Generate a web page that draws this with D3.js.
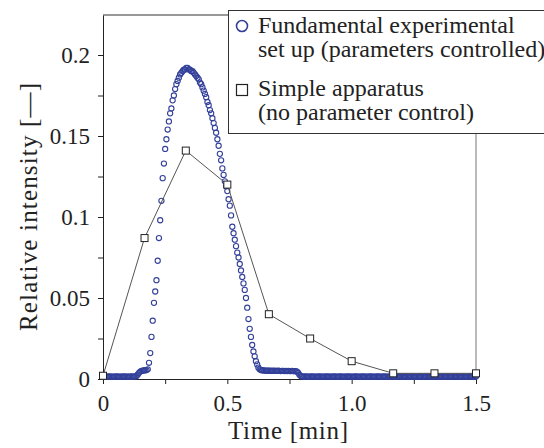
<!DOCTYPE html>
<html>
<head>
<meta charset="utf-8">
<script src="https://cdn.jsdelivr.net/npm/d3@7"></script>
<style>
  body { margin: 0; background: #fff; }
</style>
</head>
<body>
<div id="chart"></div>
<script>
// fundamental set up: one reading every 0.005 min, starting at t = 0
const fundamentalStart = 0
const fundamentalStep = 0.005
const fundamentalValues = [
  0.0016, 0.0015, 0.0015, 0.0014, 0.0015, 0.0016, 0.0015, 0.0015, 0.0014, 0.0015,
  0.0015, 0.0016, 0.0015, 0.0015, 0.0014, 0.0015, 0.0015, 0.0016, 0.0015, 0.0015,
  0.0015, 0.0014, 0.0015, 0.0016, 0.0015, 0.0015, 0.0016, 0.0018,
  0.0028, 0.0038, 0.0046, 0.0050, 0.0052, 0.0053, 0.0054, 0.0055,
  0.006, 0.010, 0.016, 0.026, 0.036, 0.047, 0.054, 0.061, 0.073, 0.087,
  0.098, 0.110, 0.124, 0.133, 0.142, 0.148, 0.154, 0.159, 0.164, 0.167,
  0.172, 0.175, 0.179, 0.182, 0.184, 0.186, 0.188, 0.189, 0.190, 0.191,
  0.191, 0.192, 0.192, 0.191, 0.191, 0.190, 0.190, 0.189, 0.188, 0.187,
  0.186, 0.185, 0.183, 0.182, 0.180, 0.178, 0.176, 0.174, 0.171, 0.169,
  0.166, 0.164, 0.161, 0.158, 0.155, 0.152, 0.148, 0.144, 0.139, 0.135,
  0.130, 0.126, 0.122, 0.119, 0.116, 0.111, 0.107, 0.101, 0.094, 0.090,
  0.086, 0.082, 0.078, 0.075, 0.071, 0.067, 0.063, 0.059, 0.055, 0.050,
  0.044, 0.037, 0.031, 0.026, 0.021, 0.017, 0.014, 0.011, 0.009, 0.007,
  0.006,
  0.0055, 0.0054, 0.0053, 0.0052, 0.0052, 0.0051, 0.0052, 0.0051, 0.0050, 0.0051,
  0.0050, 0.0051, 0.0050, 0.0050, 0.0051, 0.0050, 0.0049, 0.0050, 0.0050, 0.0049,
  0.0050, 0.0049, 0.0050, 0.0049, 0.0049, 0.0050, 0.0049, 0.0048, 0.0049, 0.0046,
  0.0038,
  0.0026, 0.0018, 0.0016, 0.0015, 0.0015, 0.0016, 0.0015, 0.0014, 0.0015, 0.0015,
  0.0016, 0.0015, 0.0015, 0.0014, 0.0015, 0.0015, 0.0016, 0.0015, 0.0015, 0.0014,
  0.0015, 0.0015, 0.0016, 0.0015, 0.0015, 0.0014, 0.0015, 0.0015, 0.0016, 0.0015,
  0.0015, 0.0014, 0.0015, 0.0016, 0.0015, 0.0015, 0.0014, 0.0015, 0.0015, 0.0016,
  0.0015, 0.0015, 0.0015, 0.0014, 0.0015, 0.0016, 0.0015, 0.0015, 0.0014, 0.0015,
  0.0015, 0.0016, 0.0015, 0.0015, 0.0014, 0.0015, 0.0015, 0.0016, 0.0015, 0.0015,
  0.0014, 0.0015, 0.0015, 0.0016, 0.0015, 0.0015, 0.0014, 0.0015, 0.0016, 0.0015,
  0.0015, 0.0014, 0.0015, 0.0015, 0.0016, 0.0015, 0.0015, 0.0014, 0.0015, 0.0015,
  0.0016, 0.0015, 0.0015, 0.0014, 0.0015, 0.0016, 0.0015, 0.0015, 0.0014, 0.0015,
  0.0015, 0.0016, 0.0015, 0.0015, 0.0014, 0.0015, 0.0015, 0.0016, 0.0015, 0.0015,
  0.0014, 0.0015, 0.0016, 0.0015, 0.0015, 0.0014, 0.0015, 0.0015, 0.0016, 0.0015,
  0.0015, 0.0014, 0.0015, 0.0015, 0.0016, 0.0015, 0.0015, 0.0014, 0.0015, 0.0016,
  0.0015, 0.0015, 0.0014, 0.0015, 0.0015, 0.0016, 0.0015, 0.0015, 0.0014, 0.0015,
  0.0015, 0.0016, 0.0015, 0.0015, 0.0014, 0.0015, 0.0015, 0.0016, 0.0015, 0.0015,
  0.0015, 0.0014, 0.0015
]

// simple apparatus: one reading every 10 s
const simpleTime = [0, 0.167, 0.333, 0.5, 0.667, 0.833, 1.0, 1.167, 1.333, 1.5]
const simpleValues = [0.002, 0.087, 0.141, 0.120, 0.040, 0.025, 0.011, 0.0035, 0.0035, 0.0035]

const xTicks = [0, 0.25, 0.5, 0.75, 1, 1.25, 1.5]
const xLabels = ["0", "", "0.5", "", "1.0", "", "1.5"]
const yTicks = [0, 0.025, 0.05, 0.075, 0.1, 0.125, 0.15, 0.175, 0.2]
const yLabels = ["0", "", "0.05", "", "0.1", "", "0.15", "", "0.2"]

const legendLabels = [
  ["Fundamental experimental", "set up (parameters controlled)"],
  ["Simple apparatus", "(no parameter control)"]
]

const width = 544
const height = 448
const blue = "#33409a"
const serif = "'Liberation Serif', 'Times New Roman', Times, serif"

const svg = d3.select("#chart")
    .append("svg")
    .attr("width", width)
    .attr("height", height)
    .attr("font-family", serif)

const xScale = d3.scaleLinear().domain([0, 1.5]).range([103, 476])
const yScale = d3.scaleLinear().domain([0, 0.2247]).range([379, 15])

// axes
const xAxis = svg.append("g")
    .attr("transform", "translate(0," + yScale(0) + ")")
    .call(d3.axisBottom(xScale)
        .tickValues(xTicks)
        .tickSize(5)
        .tickSizeOuter(0)
        .tickPadding(11)
        .tickFormat((d, i) => xLabels[i]))
    .attr("font-family", serif)
    .attr("font-size", 23)

const yAxis = svg.append("g")
    .attr("transform", "translate(" + xScale(0) + ",0)")
    .call(d3.axisLeft(yScale)
        .tickValues(yTicks)
        .tickSize(5)
        .tickSizeOuter(0)
        .tickPadding(8)
        .tickFormat((d, i) => yLabels[i]))
    .attr("font-family", serif)
    .attr("font-size", 23)

svg.selectAll(".domain, .tick line").attr("stroke", "#222")
svg.selectAll(".tick text").attr("fill", "#222")

// frame: top and right
svg.append("line")
    .attr("x1", xScale(0)).attr("x2", 230)
    .attr("y1", yScale.range()[1]).attr("y2", yScale.range()[1])
    .attr("stroke", "#333")
svg.append("line")
    .attr("x1", xScale(1.5)).attr("x2", xScale(1.5))
    .attr("y1", 20).attr("y2", yScale(0))
    .attr("stroke", "#777")

// fundamental set up (hollow rings, dense runs merge into a band)
svg.append("g")
    .selectAll("circle")
    .data(fundamentalValues)
    .join("circle")
    .attr("cx", (d, i) => xScale(fundamentalStart + i * fundamentalStep))
    .attr("cy", d => yScale(d))
    .attr("r", 2.6)
    .attr("fill", "none")
    .attr("stroke", blue)
    .attr("stroke-width", 1.1)

// simple apparatus
const simplePoints = simpleTime.map((t, i) => [t, simpleValues[i]])
svg.append("path")
    .datum(simplePoints)
    .attr("fill", "none")
    .attr("stroke", "#555")
    .attr("stroke-width", 1)
    .attr("d", d3.line().x(d => xScale(d[0])).y(d => yScale(d[1])))
svg.append("g")
    .selectAll("rect")
    .data(simplePoints)
    .join("rect")
    .attr("x", d => xScale(d[0]) - 3.5)
    .attr("y", d => yScale(d[1]) - 3.5)
    .attr("width", 7)
    .attr("height", 7)
    .attr("fill", "#fff")
    .attr("stroke", "#222")
    .attr("stroke-width", 1)

// axis titles
svg.append("text")
    .attr("x", 288)
    .attr("y", 439)
    .attr("text-anchor", "middle")
    .attr("font-size", 25)
    .attr("textLength", 120)
    .attr("fill", "#222")
    .text("Time [min]")
svg.append("text")
    .attr("transform", "translate(37,207) rotate(-90)")
    .attr("text-anchor", "middle")
    .attr("font-size", 25)
    .attr("textLength", 248)
    .attr("fill", "#222")
    .text("Relative intensity [\u2014]")

// legend
const legend = svg.append("g")
legend.append("rect")
    .attr("x", 228.5)
    .attr("y", 10.5)
    .attr("width", 330)
    .attr("height", 123)
    .attr("fill", "#fff")
    .attr("stroke", "#333")
legend.append("circle")
    .attr("cx", 242)
    .attr("cy", 26)
    .attr("r", 5.5)
    .attr("fill", "#fff")
    .attr("stroke", blue)
    .attr("stroke-width", 1.6)
legend.append("rect")
    .attr("x", 236.5)
    .attr("y", 84.5)
    .attr("width", 11)
    .attr("height", 11)
    .attr("fill", "#fff")
    .attr("stroke", "#222")
    .attr("stroke-width", 1.2)

const legendBaselines = [[33, 57], [96, 120]]
legendLabels.forEach((lines, i) => {
    lines.forEach((line, j) => {
        legend.append("text")
            .attr("x", 258)
            .attr("y", legendBaselines[i][j])
            .attr("font-size", 24)
            .attr("fill", "#222")
            .text(line)
    })
})
</script>
</body>
</html>
